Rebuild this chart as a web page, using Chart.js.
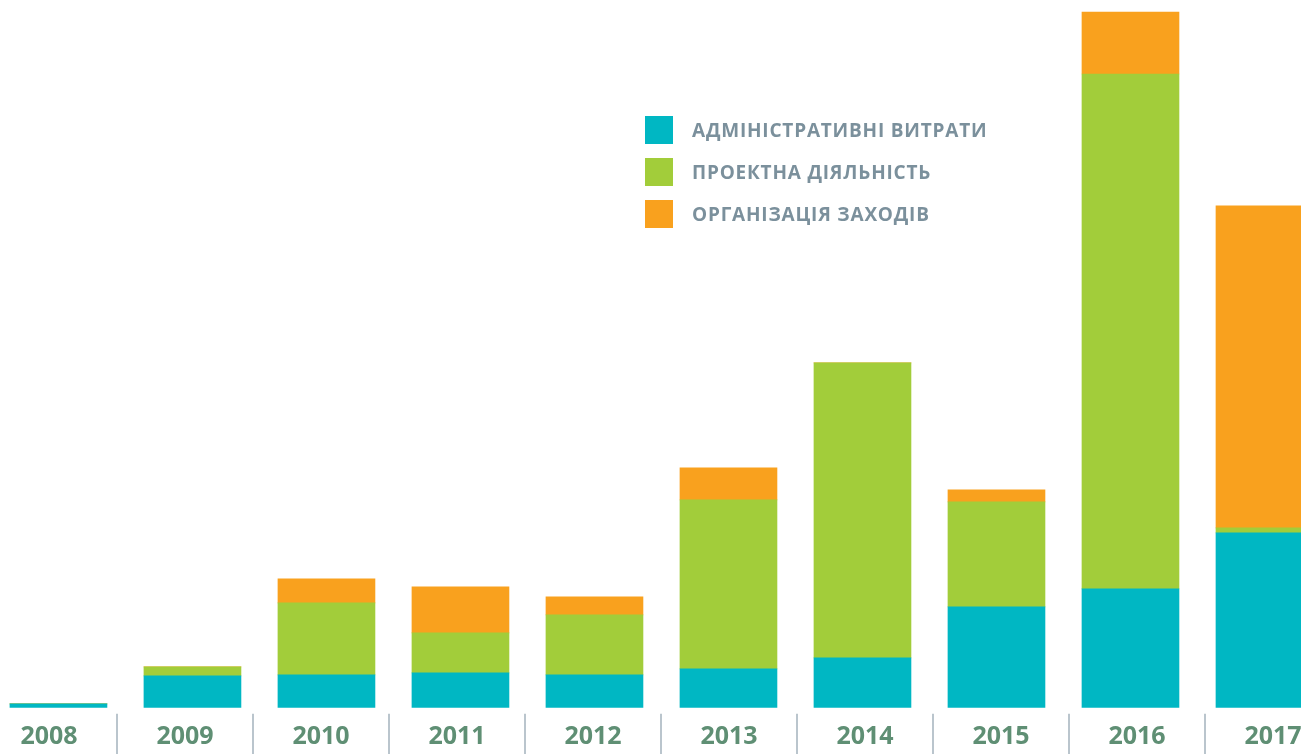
<!DOCTYPE html>
<html>
<head>
<meta charset="utf-8">
<script src="https://cdn.jsdelivr.net/npm/chart.js@4.4.0/dist/chart.umd.min.js"></script>
<style>
    html, body { margin: 0; padding: 0; background: #FFFFFF; overflow: hidden; }
    body { width: 1301px; height: 754px; position: relative; }
    #wrap { position: absolute; left: -19px; top: 0; width: 1360px; height: 758px; }
    #legend { position: absolute; left: 645px; top: 116px; }
    .legend-row { display: flex; align-items: center; height: 28px; margin-bottom: 14px; }
    .legend-box { width: 28px; height: 28px; margin-right: 19px; }
    .legend-text { font-family: 'Open Sans', sans-serif; font-weight: 700; font-size: 19px; letter-spacing: 0.8px; color: #7B909C; }
</style>
</head>
<body>
<div id="wrap"><canvas id="costChart" width="1360" height="758"></canvas></div>
<div id="legend"></div>
<script>
// Years and series (bar heights, arbitrary units)
const years = ['2008', '2009', '2010', '2011', '2012', '2013', '2014', '2015', '2016', '2017'];
const seriesNames = ['АДМІНІСТРАТИВНІ ВИТРАТИ', 'ПРОЕКТНА ДІЯЛЬНІСТЬ', 'ОРГАНІЗАЦІЯ ЗАХОДІВ'];
const adminCosts = [4, 32, 33, 35, 33, 39, 50, 101, 119, 175];
const projectWork = [0, 9, 72, 40, 60, 169, 295, 105, 515, 5];
const eventsCosts = [0, 0, 24, 46, 18, 32, 0, 12, 62, 322];
const seriesColors = ['#00B7C3', '#A2CD3A', '#F9A11E'];

document.addEventListener('DOMContentLoaded', function() {
    buildLegend();
    drawChart();
});

function buildLegend() {
    const legend = document.getElementById('legend');
    legend.innerHTML = seriesNames.map((name, i) => `
        <div class="legend-row">
            <div class="legend-box" style="background: ${seriesColors[i]};"></div>
            <span class="legend-text">${name}</span>
        </div>
    `).join('');
}

// thin vertical separators between the year labels
const separators = {
    id: 'separators',
    afterDraw(chart) {
        const xs = chart.scales.x;
        const ctx = chart.ctx;
        ctx.save();
        ctx.strokeStyle = '#A3B2BC';
        ctx.lineWidth = 1.5;
        for (let i = 1; i < years.length; i++) {
            const px = (xs.getPixelForTick(i - 1) + xs.getPixelForTick(i)) / 2;
            ctx.beginPath();
            ctx.moveTo(px, chart.chartArea.bottom + 6);
            ctx.lineTo(px, chart.height);
            ctx.stroke();
        }
        ctx.restore();
    }
};

function drawChart() {
    const ctx = document.getElementById('costChart');
    const toPoints = arr => arr.map((v, i) => ({ x: +years[i], y: v }));
    const series = [adminCosts, projectWork, eventsCosts];

    new Chart(ctx, {
        type: 'bar',
        data: {
            labels: years,
            datasets: series.map((arr, i) => ({
                label: seriesNames[i],
                data: toPoints(arr),
                backgroundColor: seriesColors[i],
                borderWidth: 0,
                barThickness: 97,
                xAxisID: 'xb',
                yAxisID: 'y'
            }))
        },
        options: {
            responsive: false,
            animation: false,
            layout: { padding: 0 },
            plugins: {
                legend: { display: false },
                tooltip: { enabled: false }
            },
            scales: {
                x: {
                    type: 'category',
                    labels: years,
                    offset: true,
                    grid: { display: false },
                    border: { display: false },
                    ticks: {
                        color: '#5F8F74',
                        padding: 6.1,
                        font: { family: 'Open Sans', size: 25, weight: '700' }
                    }
                },
                xb: {
                    type: 'linear',
                    display: false,
                    offset: false,
                    stacked: true,
                    bounds: 'data',
                    min: 2007.422,
                    max: 2017.571
                },
                y: {
                    display: false,
                    stacked: true,
                    min: 0,
                    max: 708
                }
            }
        },
        plugins: [separators]
    });
}
</script>
</body>
</html>
